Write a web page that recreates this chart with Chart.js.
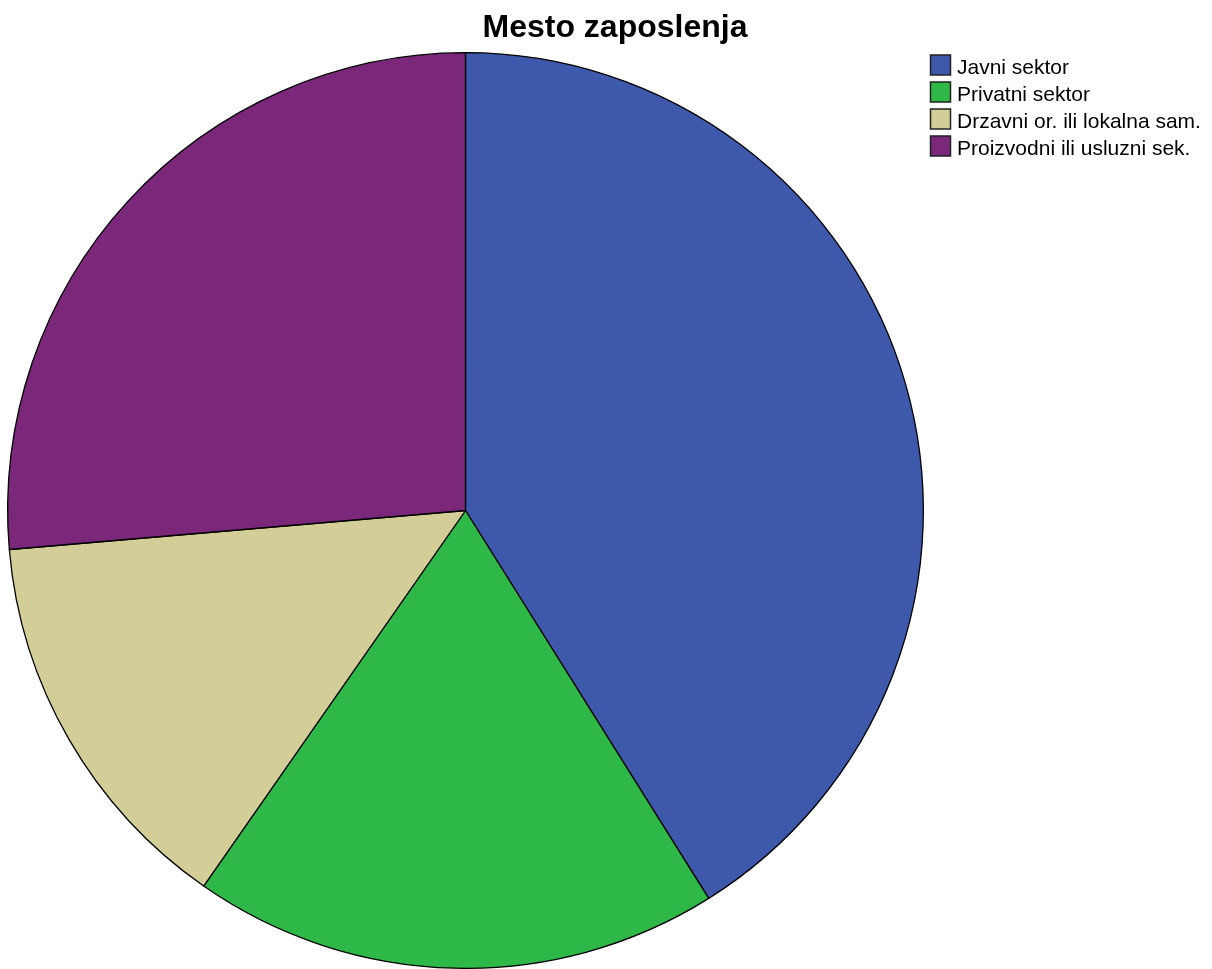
<!DOCTYPE html>
<html>
<head>
<meta charset="utf-8">
<style>
  html, body { margin: 0; padding: 0; background: #ffffff; }
  #wrap { width: 1212px; height: 969px; position: relative; }
</style>
<script src="https://cdn.jsdelivr.net/npm/chart.js@4/dist/chart.umd.min.js"></script>
</head>
<body>
<div id="wrap"><canvas id="c" width="1212" height="969"></canvas></div>
<script>
// Mesto zaposlenja – frequency of each employment place
const categories = ['Javni sektor', 'Privatni sektor', 'Drzavni or. ili lokalna sam.', 'Proizvodni ili usluzni sek.'];
const counts = [53, 24, 18, 34];
const sliceColors = ['#3E58AC', '#2EB848', '#D3CE97', '#7B287B'];
const chartTitle = 'Mesto zaposlenja';

// Title and legend painted on top of the canvas, using the chart's own labels/colours
const headerAndKey = {
  id: 'headerAndKey',
  afterDraw(chart) {
    const ctx = chart.ctx;
    ctx.save();
    ctx.fillStyle = '#000';
    ctx.font = 'bold 32px "Liberation Sans", Arial, sans-serif';
    ctx.textAlign = 'center';
    ctx.textBaseline = 'alphabetic';
    ctx.fillText(chartTitle, 615, 37);

    const labels = chart.data.labels;
    const colors = chart.data.datasets[0].backgroundColor;
    ctx.font = '21px "Liberation Sans", Arial, sans-serif';
    ctx.textAlign = 'left';
    ctx.textBaseline = 'middle';
    labels.forEach((lab, i) => {
      const y = 65 + i * 27;
      ctx.fillStyle = colors[i];
      ctx.fillRect(930.5, y - 10, 20, 20);
      ctx.strokeStyle = '#222';
      ctx.lineWidth = 1.5;
      ctx.strokeRect(930.5, y - 10, 20, 20);
      ctx.fillStyle = '#000';
      ctx.fillText(lab, 957, y + 3);
    });
    ctx.restore();
  }
};

new Chart(document.getElementById('c'), {
  type: 'pie',
  data: {
    labels: categories,
    datasets: [{
      data: counts,
      backgroundColor: sliceColors,
      borderColor: '#000000',
      borderWidth: 1.3,
      borderAlign: 'center'
    }]
  },
  options: {
    responsive: false,
    animation: false,
    devicePixelRatio: 1,
    rotation: 0,
    layout: { padding: { left: 6, right: 287, top: 52, bottom: -2 } },
    plugins: {
      legend: { display: false },
      title: { display: false },
      tooltip: { enabled: false }
    }
  },
  plugins: [headerAndKey]
});
</script>
</body>
</html>
